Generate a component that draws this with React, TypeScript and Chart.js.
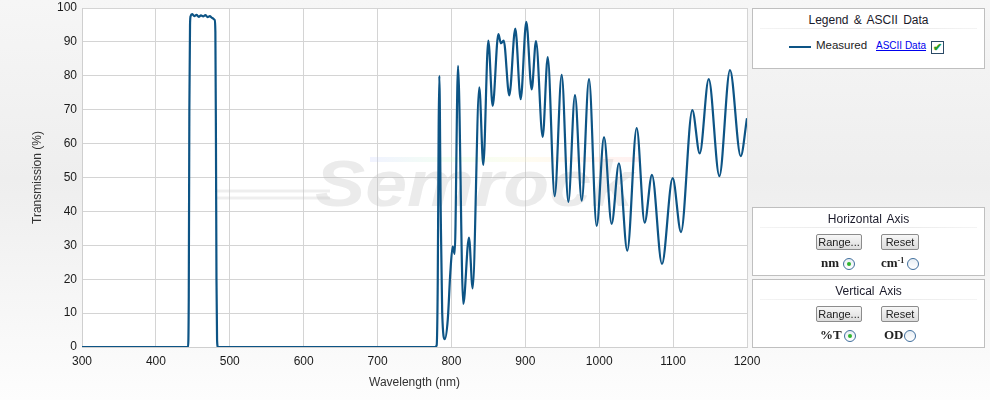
import React, { useEffect, useRef } from "react";
import { Chart, registerables } from "chart.js";
Chart.register(...registerables);

// ---- data ----
const wavelengthNm = [
  300, 440, 443.5, 444.5, 445.3, 446.2, 447, 449, 452, 455, 458, 461, 464, 467, 470, 473, 476, 479.5,
  480.5, 481.3, 482, 482.8, 484, 600, 777.5, 780, 781.5, 782.7, 783.6, 785.5, 787.5, 791, 795, 798.5,
  801.7, 804.4, 808.9, 816, 823.7, 828.7, 837.7, 843.1, 849.9, 855.8, 863.5, 867, 870.7, 878.3, 886.4,
  893.7, 901.3, 908.6, 914.4, 923.5, 930.3, 939.7, 949.2, 958.2, 967.2, 976.3, 986.2, 996.5, 1006.5,
  1016.8, 1026.7, 1038, 1050.7, 1061.5, 1071.4, 1084.9, 1099.4, 1110.7, 1126, 1136, 1148.2, 1162.6,
  1177, 1191.5, 1200,
];
const transmissionPct = [
  0, 0, 0, 15, 70, 95, 97.6, 98.2, 97.6, 98.0, 97.4, 97.8, 97.5, 97.9, 97.3, 97.6, 97.1, 96.5,
  93, 60, 20, 2, 0, 0, 0, 0.5, 20, 65, 80, 40, 10, 2.3, 8, 22,
  29.6, 27.5, 82.9, 12.7, 32.3, 17.3, 76.6, 53.7, 90.4, 71.1, 92.3, 89.6, 90.4, 74.2, 93.9,
  73.1, 95.9, 76, 90.2, 62, 85.5, 44.5, 80.3, 42.8, 74.3, 43.2, 79, 35.7, 61.9,
  36.3, 54.2, 28.4, 64.6, 36.7, 50.8, 24.5, 49.8, 33.9, 69.9, 57.1, 79, 50.4,
  81.7, 56.3, 67.5,
];
const xTickValues = [300, 400, 500, 600, 700, 800, 900, 1000, 1100, 1200];
const yTickValues = [0, 10, 20, 30, 40, 50, 60, 70, 80, 90, 100];
const seriesName = "Measured";

const FONT = '"Liberation Sans", Arial, sans-serif';
const LINE_COLOR = "#0d5485";

const plotBg = {
  id: "plotBg",
  beforeDraw(chart: any) {
    const { ctx, chartArea } = chart;
    ctx.save();
    ctx.fillStyle = "#ffffff";
    ctx.fillRect(chartArea.left, chartArea.top, chartArea.right - chartArea.left, chartArea.bottom - chartArea.top);
    ctx.restore();
  },
};

const watermark = {
  id: "watermark",
  beforeDatasetsDraw(chart: any) {
    const { ctx } = chart;
    ctx.save();
    const g = ctx.createLinearGradient(370, 0, 640, 0);
    g.addColorStop(0, "rgba(190,200,255,0.22)");
    g.addColorStop(0.3, "rgba(200,255,200,0.22)");
    g.addColorStop(0.6, "rgba(255,240,190,0.22)");
    g.addColorStop(1, "rgba(255,190,190,0.22)");
    ctx.fillStyle = g;
    ctx.fillRect(370, 157, 270, 5);
    ctx.strokeStyle = "rgba(200,200,200,0.3)";
    ctx.lineWidth = 3;
    ctx.beginPath();
    ctx.moveTo(215, 191);
    ctx.lineTo(330, 191);
    ctx.moveTo(215, 198);
    ctx.lineTo(330, 198);
    ctx.stroke();
    ctx.font = `italic bold 64px ${FONT}`;
    const w = ctx.measureText("Semrock").width;
    ctx.translate(315, 206);
    ctx.scale(318 / w, 1);
    ctx.fillStyle = "rgba(190,190,190,0.3)";
    ctx.fillText("Semrock", 0, 0);
    ctx.restore();
  },
};

const Btn = ({ left, top, width, label }: any) => (
  <div
    style={{
      position: "absolute", left, top, width, height: 16, boxSizing: "border-box",
      border: "1px solid #8c8c8c", borderRadius: 2, background: "linear-gradient(#f7f7f7,#dcdcdc)",
      font: `11px ${FONT}`, color: "#222", textAlign: "center", lineHeight: "14px",
    }}
  >
    {label}
  </div>
);

const Radio = ({ cx, cy, on }: any) => (
  <div
    style={{
      position: "absolute", left: cx - 6, top: cy - 6, width: 12, height: 12, boxSizing: "border-box",
      borderRadius: "50%", border: "1px solid #3f6e9c", background: "linear-gradient(#e8eef4,#ffffff)",
    }}
  >
    {on && (
      <div style={{ position: "absolute", left: 3, top: 3, width: 4, height: 4, borderRadius: "50%", background: "#2fb52f" }} />
    )}
  </div>
);

const Txt = ({ left, cy, children, style }: any) => (
  <div style={{ position: "absolute", left, top: cy - 8, height: 16, lineHeight: "16px", whiteSpace: "nowrap", ...style }}>
    {children}
  </div>
);

const Box = ({ top, height, title }: any) => (
  <>
    <div
      style={{
        position: "absolute", left: 752, top, width: 233, height, boxSizing: "border-box",
        border: "1px solid #bfbfbf", background: "#ffffff",
      }}
    />
    <div
      style={{
        position: "absolute", left: 752, top: top + 5, width: 233, height: 16, lineHeight: "16px",
        textAlign: "center", font: `12px ${FONT}`, color: "#1a1a2a", wordSpacing: 2,
      }}
    >
      {title}
    </div>
    <div style={{ position: "absolute", left: 760, top: top + 20, width: 217, height: 1, background: "linear-gradient(90deg,#f4f4f4,#e6e6e6,#f4f4f4)" }} />
  </>
);

const boldLabel = { font: `bold 13px "Liberation Serif", serif`, color: "#222" };

export default function App() {
  const ref = useRef<HTMLCanvasElement>(null);
  useEffect(() => {
    if (!ref.current) return;
    const points = wavelengthNm.map((x, i) => ({ x, y: transmissionPct[i] }));
    const chart = new Chart(ref.current, {
      type: "scatter",
      data: {
        datasets: [
          {
            label: seriesName,
            data: points,
            showLine: true,
            borderColor: LINE_COLOR,
            backgroundColor: LINE_COLOR,
            borderWidth: 2.2,
            pointRadius: 0,
            cubicInterpolationMode: "monotone",
            fill: false,
          } as any,
        ],
      },
      options: {
        animation: false,
        responsive: false,
        devicePixelRatio: 1,
        layout: { padding: { top: 8, right: 243, left: 0, bottom: 0 } },
        plugins: { legend: { display: false }, tooltip: { enabled: false } },
        scales: {
          x: {
            type: "linear",
            min: 300,
            max: 1200,
            afterBuildTicks: (s: any) => { s.ticks = xTickValues.map((v) => ({ value: v })); },
            afterFit: (s: any) => { s.height = 53; s.paddingLeft = 0; s.paddingRight = 0; },
            ticks: { color: "#1a1a1a", font: { family: FONT, size: 12 }, padding: 7, maxRotation: 0, callback: (v: any) => String(v) },
            grid: { color: "#d4d4d4", drawTicks: false },
            border: { color: "#cfcfcf" },
            title: { display: true, text: "Wavelength (nm)", color: "#333", font: { family: FONT, size: 12 }, padding: { top: 0, bottom: 10 } },
          },
          y: {
            type: "linear",
            min: 0,
            max: 100,
            afterBuildTicks: (s: any) => { s.ticks = yTickValues.map((v) => ({ value: v })); },
            afterFit: (s: any) => { s.width = 82; s.paddingTop = 0; s.paddingBottom = 0; },
            ticks: { color: "#1a1a1a", font: { family: FONT, size: 12 }, padding: 5, callback: (v: any) => String(v) },
            grid: { color: "#d4d4d4", drawTicks: false },
            border: { color: "#cfcfcf" },
            title: { display: true, text: "Transmission (%)", color: "#333", font: { family: FONT, size: 12 }, padding: { top: 30, bottom: 0 } },
          },
        },
      },
      plugins: [plotBg, watermark],
    });
    return () => chart.destroy();
  }, []);

  return (
    <div
      style={{
        position: "fixed", left: 0, top: 0, width: 990, height: 400, overflow: "hidden",
        background: "linear-gradient(#f6f6f6 0%, #eeeeee 45%, #fdfdfd 100%)",
      }}
    >
      <canvas ref={ref} width={990} height={400} style={{ position: "absolute", left: 0, top: 0, width: 990, height: 400 }} />
      <Box top={8} height={61} title="Legend & ASCII Data" />
      <div style={{ position: "absolute", left: 789, top: 46, width: 22, height: 2, background: LINE_COLOR }} />
      <Txt left={816} cy={47} style={{ font: `11.5px ${FONT}`, color: "#222" }}>{seriesName}</Txt>
      <Txt left={876} cy={48} style={{ font: `10px ${FONT}`, color: "#0000ee", textDecoration: "underline" }}>ASCII Data</Txt>
      <div
        style={{
          position: "absolute", left: 931, top: 41, width: 13, height: 13, boxSizing: "border-box",
          border: "1px solid #2b4a66", background: "#fff", color: "#2a9d2a", font: `bold 11px ${FONT}`,
          textAlign: "center", lineHeight: "11px",
        }}
      >
        ✔
      </div>

      <Box top={207} height={69} title="Horizontal Axis" />
      <Btn left={816} top={234} width={46} label="Range..." />
      <Btn left={881} top={234} width={38} label="Reset" />
      <Txt left={821} cy={263} style={boldLabel}>nm</Txt>
      <Radio cx={849} cy={264} on />
      <Txt left={881} cy={263} style={boldLabel}>
        cm<sup style={{ fontSize: 8, verticalAlign: "top", lineHeight: "12px" }}>-1</sup>
      </Txt>
      <Radio cx={913} cy={264} on={false} />

      <Box top={279} height={69} title="Vertical Axis" />
      <Btn left={816} top={306} width={46} label="Range..." />
      <Btn left={881} top={306} width={38} label="Reset" />
      <Txt left={820} cy={335} style={boldLabel}>%T</Txt>
      <Radio cx={850} cy={336} on />
      <Txt left={884} cy={335} style={boldLabel}>OD</Txt>
      <Radio cx={910} cy={336} on={false} />
    </div>
  );
}
